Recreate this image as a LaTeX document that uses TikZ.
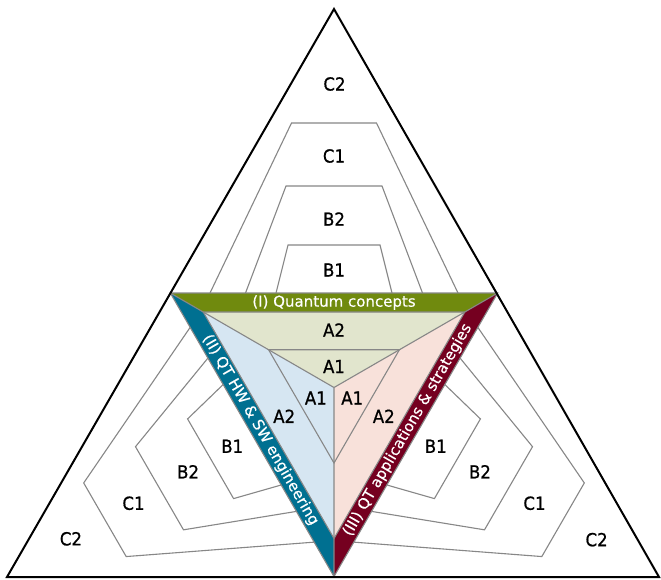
\documentclass[tikz,border=0pt]{standalone}
\usepackage{fontspec}
\setmainfont{DejaVu Sans}
\newfontfamily\lblfont{DejaVu Sans}[FakeStretch=0.92,FakeBold=0.8]
\newfontfamily\bandfont{DejaVu Sans}[FakeBold=0.4]
\definecolor{bandgreen}{RGB}{112,138,14}
\definecolor{lightgreen}{RGB}{225,229,205}
\definecolor{bandblue}{RGB}{0,112,145}
\definecolor{lightblue}{RGB}{214,230,242}
\definecolor{bandred}{RGB}{117,0,32}
\definecolor{lightred}{RGB}{248,225,218}
\definecolor{linegray}{RGB}{135,135,135}
\begin{document}
\begin{tikzpicture}[x=1pt,y=-1pt,
  gline/.style={draw=linegray, line width=1.1pt, line join=miter},
  lvl/.style={font=\lblfont\fontsize{18}{20}\selectfont, text=black, inner sep=0pt},
  bandtext/.style={font=\bandfont\fontsize{15}{17}\selectfont, text=white, inner sep=0pt}]
\useasboundingbox (0,0) rectangle (661,579);
\fill[white] (0,0) rectangle (661,579);
% key points
\coordinate (c) at (334,387.5);
\coordinate (T1) at (170.3,293);
\coordinate (T2) at (497.7,293);
\coordinate (T3) at (334,576.5);
\coordinate (I1) at (203.2,312);
\coordinate (I2) at (464.8,312);
\coordinate (I3) at (334,538.5);
\coordinate (S1) at (268.6,349.75);
\coordinate (S2) at (399.4,349.75);
\coordinate (S3) at (334,463);
% inner fills
\fill[lightgreen] (I1)--(I2)--(c)--cycle;
\fill[lightblue] (I1)--(c)--(I3)--cycle;
\fill[lightred] (I2)--(I3)--(c)--cycle;
\fill[bandgreen] (T1)--(T2)--(I2)--(I1)--cycle;
\fill[bandblue] (T1)--(I1)--(I3)--(T3)--cycle;
\fill[bandred] (T2)--(T3)--(I3)--(I2)--cycle;
% inner lines
\draw[gline] (T1)--(T2)--(T3)--cycle;
\draw[gline] (I1)--(I2)--(I3)--cycle;
\draw[gline] (T1)--(I1) (T2)--(I2) (T3)--(I3);
\draw[gline] (I1)--(c)--(I2) (c)--(I3);
\draw[gline] (S1)--(S2)--(S3)--cycle;
% three outer regions (rotations of the top one)
\foreach \a in {0,120,240}{
  \begin{scope}[rotate around={\a:(c)}]
    \draw[gline] (276,293)--(288,245)--(380,245)--(392,293);
    \draw[gline] (245.5,293)--(286,186)--(382,186)--(422.5,293);
    \draw[gline] (210,293)--(291.5,123)--(376.5,123)--(458,293);
    \node[lvl] (C2-\a) at (334.5,84) {C2};
    \node[lvl] (C1-\a) at (334,156) {C1};
    \node[lvl] (B2-\a) at (334,219) {B2};
    \node[lvl] (B1-\a) at (334,270) {B1};
    \node[lvl] (A2-\a) at (334,330) {A2};
    \node[lvl] (A1-\a) at (334,366.5) {A1};
  \end{scope}
}
% outer triangle
\draw[black, line width=2pt, line join=miter] (334,9)--(7,577)--(659,577)--cycle;
% band texts
\node[bandtext] (band1) at (334,302.5) {(I) Quantum concepts};
\node[bandtext, rotate=-60] (band2) at (260.4,430) {(II) QT HW \& SW engineering};
\node[bandtext, rotate=60] (band3) at (407.6,430) {(III) QT applications \& strategies};
\end{tikzpicture}
\end{document}
